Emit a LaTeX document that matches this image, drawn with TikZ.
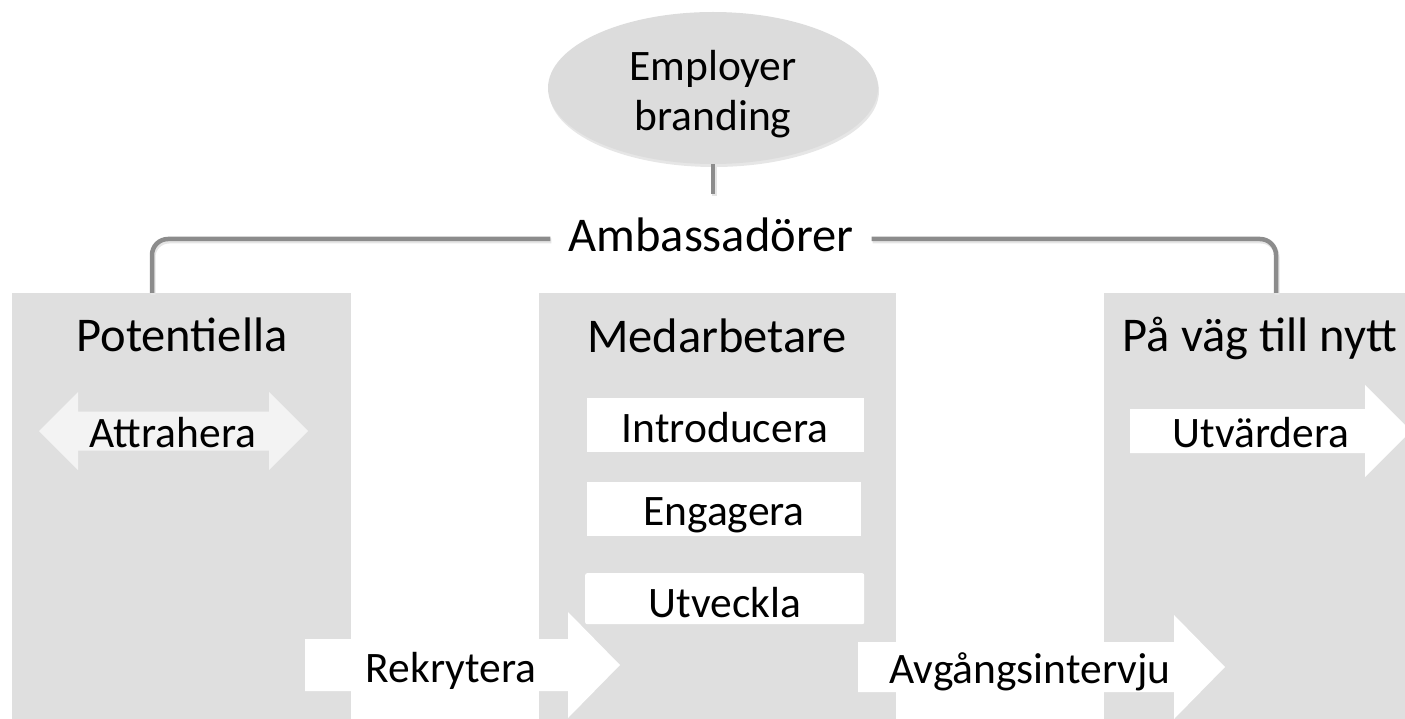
\documentclass[tikz,border=0pt]{standalone}
\usepackage{fontspec}
\setmainfont{Carlito}
\usetikzlibrary{shapes.geometric, shadows}
\definecolor{colgray}{RGB}{223,223,223}
\definecolor{ovalgray}{RGB}{220,220,220}
\definecolor{linegray}{RGB}{140,140,140}
\definecolor{palegray}{RGB}{243,243,243}

\begin{document}
\begin{tikzpicture}[x=1pt, y=-1pt,
    column/.style={fill=colgray, anchor=north west, minimum height=440pt, inner sep=0pt},
    head/.style={font=\fontsize{48.5}{58}\selectfont, anchor=base, inner sep=0pt},
    lbl/.style={font=\fontsize{43.5}{50}\selectfont, anchor=base, inner sep=0pt},
    task/.style={fill=white, anchor=north west, minimum width=277pt, inner sep=0pt},
    link/.style={draw=linegray, line width=4.5pt, rounded corners=16pt,
        preaction={draw=black!10, line width=5pt, transform canvas={xshift=1pt, yshift=-2pt}}}]
    \useasboundingbox (0,0) rectangle (1405,719);
    % Columns
    \node[column, minimum width=339pt] (pot) at (12,293) {};
    \node[column, minimum width=357pt] (med) at (539,293) {};
    \node[column, minimum width=357pt] (away) at (1104,293) {};
    \node[head] (pottxt) at (182,351) {Potentiella};
    \node[head] (medtxt) at (717,352) {Medarbetare};
    \node[head] (awaytxt) at (1260,351) {På väg till nytt};
    % Top of the tree
    \node[ellipse, fill=ovalgray, minimum width=330pt, minimum height=152pt,
        drop shadow={opacity=0.2, shadow xshift=1pt, shadow yshift=-3pt}] (brand) at (713,88) {};
    \node[lbl, anchor=center, align=center] (brandtxt) at (713,94) {Employer\\branding};
    \node[head, fill=white, inner xsep=18pt, inner ysep=22pt, text height=36pt, text depth=10pt] (amb) at (711,252) {Ambassadörer};
    \draw[link] (brand.south) -- (brand.south |- amb.north);
    \draw[link] (amb.west) -| ([xshift=140pt]pot.north west);
    \draw[link] (amb.east) -| ([xshift=172pt]away.north west);
    % Arrows
    \fill[palegray] (39,431) -- (78,392) -- (78,411.5) -- (269,411.5) -- (269,392) -- (308,431)
        -- (269,470) -- (269,450.5) -- (78,450.5) -- (78,470) -- cycle;
    \fill[white] (305,639) -- (568,639) -- (568,612) -- (620,665) -- (568,718) -- (568,691) -- (305,691) -- cycle;
    \fill[white] (858,642) -- (1174,642) -- (1174,615) -- (1225,667) -- (1174,719) -- (1174,692) -- (858,692) -- cycle;
    \fill[white] (1130,409) -- (1365,409) -- (1365,385) -- (1411,431) -- (1365,477) -- (1365,453) -- (1130,453) -- cycle;
    \node[lbl] (attr) at (173,447) {Attrahera};
    \node[lbl] (rekr) at (451,682) {Rekrytera};
    \node[lbl] (avg) at (1030,683) {Avgångsintervju};
    \node[lbl] (utv) at (1261,447) {Utvärdera};
    % Tasks of the employees
    \node[task, minimum height=54pt] (intro) at (587,398) {};
    \node[task, minimum height=54pt, minimum width=274pt] (enga) at (587,482) {};
    \node[task, minimum height=51pt, minimum width=279pt, rounded corners=2pt] (utve) at (585,573) {};
    \node[lbl] (introtxt) at (725,442) {Introducera};
    \node[lbl] (engatxt) at (724,525) {Engagera};
    \node[lbl] (utvetxt) at (725,617) {Utveckla};
\end{tikzpicture}
\end{document}
